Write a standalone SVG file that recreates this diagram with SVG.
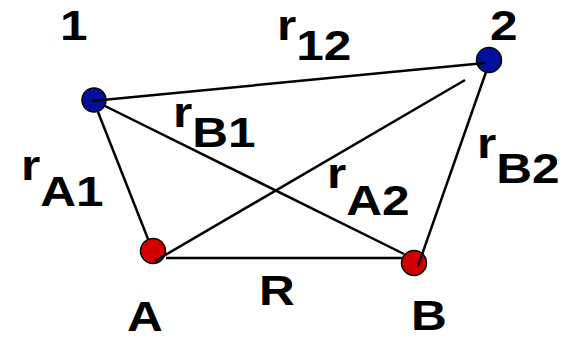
<svg xmlns="http://www.w3.org/2000/svg" width="570" height="340" viewBox="0 0 570 340">
<style>
.lbl{font-family:"Liberation Sans",Arial,sans-serif;font-weight:bold;font-size:42px;fill:#000}
.blue{fill:#00109c;stroke:#000;stroke-width:1.5}
.red{fill:#d20000;stroke:#000;stroke-width:1.5}
.edge{stroke:#000;stroke-width:2.5;fill:none;stroke-linecap:butt}
</style>
<rect width="570" height="340" fill="#fff"/>
<g id="node-1"><circle class="blue" cx="94" cy="100" r="12"/><text class="lbl" transform="translate(60,40) scale(1.18,1)">1</text></g>
<g id="node-2"><circle class="blue" cx="489" cy="60" r="12.5"/><text class="lbl" transform="translate(490,40) scale(1.18,1)">2</text></g>
<g id="node-A"><circle class="red" cx="153" cy="251" r="12.5"/><text class="lbl" transform="translate(127,331) scale(1.18,1)">A</text></g>
<g id="node-B"><circle class="red" cx="414" cy="263" r="12.5"/><text class="lbl" transform="translate(411,330) scale(1.18,1)">B</text></g>
<g id="connectors">
<line class="edge" x1="92" y1="101" x2="485" y2="63"/>
<line class="edge" x1="98" y1="112" x2="148" y2="239"/>
<line class="edge" x1="105" y1="106" x2="404" y2="254"/>
<line class="edge" x1="155" y1="261" x2="465" y2="80"/>
<line class="edge" x1="166" y1="258" x2="402" y2="258"/>
<line class="edge" x1="486" y1="72" x2="418" y2="266"/>
</g>
<g id="labels">
<text class="lbl" transform="translate(277,40) scale(1.18,1)">r<tspan dy="20">12</tspan></text>
<text class="lbl" transform="translate(173,127) scale(1.18,1)">r<tspan dy="20">B1</tspan></text>
<text class="lbl" transform="translate(21,180) scale(1.18,1)">r<tspan dy="26">A1</tspan></text>
<text class="lbl" transform="translate(327,188) scale(1.18,1)">r<tspan dy="27">A2</tspan></text>
<text class="lbl" transform="translate(477,158) scale(1.18,1)">r<tspan dy="25">B2</tspan></text>
<text class="lbl" transform="translate(259,305) scale(1.18,1)">R</text>
</g>
</svg>
